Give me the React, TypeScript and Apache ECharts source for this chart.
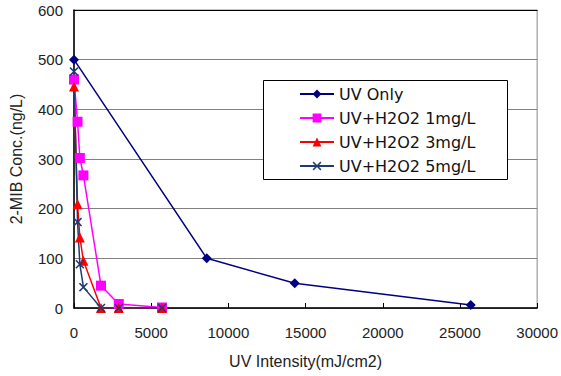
import React, { useEffect, useRef } from "react";
import * as echarts from "echarts";

// UV dose (mJ/cm2) against 2-MIB concentration (ng/L)
const uvOnlyDose = [0, 8600, 14300, 25700];
const uvOnlyConc = [500, 100, 50, 6];

const h2o2Dose = [0, 230, 380, 610, 1750, 2900, 5700];
const h2o2_1mg = [460, 375, 302, 267, 45, 8, 1];
const h2o2_3mg = [446, 209, 142, 95, 0, 0, 0];
const h2o2_5mg = [476, 173, 88, 42, 0, 0, 0];

const seriesNames = ["UV Only", "UV+H2O2 1mg/L", "UV+H2O2 3mg/L", "UV+H2O2 5mg/L"];
const xTicks = [0, 5000, 10000, 15000, 20000, 25000, 30000];
const yTicks = [0, 100, 200, 300, 400, 500, 600];

const AXIS_FONT = "'Liberation Sans Narrow', 'Liberation Sans', sans-serif";
const LEGEND_FONT = "DejaVu Sans";
const crossSymbol =
  "path://M0,1.2L1.2,0L5,3.8L8.8,0L10,1.2L6.2,5L10,8.8L8.8,10L5,6.2L1.2,10L0,8.8L3.8,5Z";

const pairs = (xs: number[], ys: number[]) => xs.map((x, i) => [x, ys[i]]);

export default function App() {
  const ref = useRef<HTMLDivElement>(null);

  useEffect(() => {
    if (!ref.current) return;
    const chart = echarts.init(ref.current, undefined, { renderer: "svg" });

    const line = (
      name: string,
      data: number[][],
      color: string,
      symbol: string,
      symbolSize: number
    ) => ({
      name,
      type: "line",
      data,
      symbol,
      symbolSize,
      showSymbol: true,
      color,
      lineStyle: { color, width: 1.5 },
      itemStyle: { color },
      z: 3,
    });

    const labelStyle = {
      fontSize: 15,
      color: "#222",
      fontFamily: AXIS_FONT,
      formatter: (v: number) => String(v),
    };

    chart.setOption({
      animation: false,
      backgroundColor: "#ffffff",
      textStyle: { fontFamily: AXIS_FONT },
      grid: {
        left: 68,
        right: 20,
        top: 10,
        bottom: 68,
        containLabel: false,
        show: true,
        borderColor: "#888",
        borderWidth: 1,
      },
      xAxis: [
        {
          type: "value",
          min: xTicks[0],
          max: xTicks[xTicks.length - 1],
          interval: 5000,
          name: "UV Intensity(mJ/cm2)",
          nameLocation: "middle",
          nameGap: 45,
          nameTextStyle: { fontSize: 16, color: "#222", fontFamily: AXIS_FONT },
          axisLine: { show: true, lineStyle: { color: "#000", width: 1.5 } },
          axisTick: { show: true, inside: true, length: 5, lineStyle: { color: "#000" } },
          axisLabel: { ...labelStyle, margin: 17 },
          splitLine: { show: false },
        },
        {
          // top frame line of the plot area
          type: "value",
          position: "top",
          min: xTicks[0],
          max: xTicks[xTicks.length - 1],
          interval: 5000,
          axisLine: { show: true, lineStyle: { color: "#000", width: 1.2 } },
          axisTick: { show: false },
          axisLabel: { show: false },
          splitLine: { show: false },
        },
      ],
      yAxis: {
        type: "value",
        min: yTicks[0],
        max: yTicks[yTicks.length - 1],
        interval: 100,
        name: "2-MIB Conc.(ng/L)",
        nameLocation: "middle",
        nameGap: 50,
        nameRotate: 90,
        nameTextStyle: { fontSize: 16, color: "#222", fontFamily: AXIS_FONT },
        axisLine: { show: true, lineStyle: { color: "#000", width: 1.5 } },
        axisTick: { show: false },
        axisLabel: { ...labelStyle, margin: 11 },
        splitLine: { show: true, lineStyle: { color: "#808080", width: 1 } },
      },
      graphic: [
        {
          type: "rect",
          shape: { x: 263.5, y: 80.5, width: 244, height: 99 },
          style: { fill: "#fff", stroke: "#000", lineWidth: 1 },
          z: 5,
        },
      ],
      legend: {
        show: true,
        data: seriesNames,
        orient: "vertical",
        left: 299,
        top: 86,
        itemWidth: 34,
        itemHeight: 11,
        itemGap: 8,
        padding: 0,
        z: 10,
        textStyle: { fontSize: 16, color: "#111", fontFamily: LEGEND_FONT, lineHeight: 16 },
      },
      series: [
        line(seriesNames[0], pairs(uvOnlyDose, uvOnlyConc), "#000080", "diamond", 10),
        line(seriesNames[1], pairs(h2o2Dose, h2o2_1mg), "#FF00FF", "rect", 10),
        line(seriesNames[2], pairs(h2o2Dose, h2o2_3mg), "#FF0000", "triangle", 10),
        line(seriesNames[3], pairs(h2o2Dose, h2o2_5mg), "#1F3B73", crossSymbol, 9),
      ],
    });

    return () => chart.dispose();
  }, []);

  return (
    <div
      ref={ref}
      style={{ position: "absolute", left: 0, top: 0, width: 561, height: 376 }}
    />
  );
}
